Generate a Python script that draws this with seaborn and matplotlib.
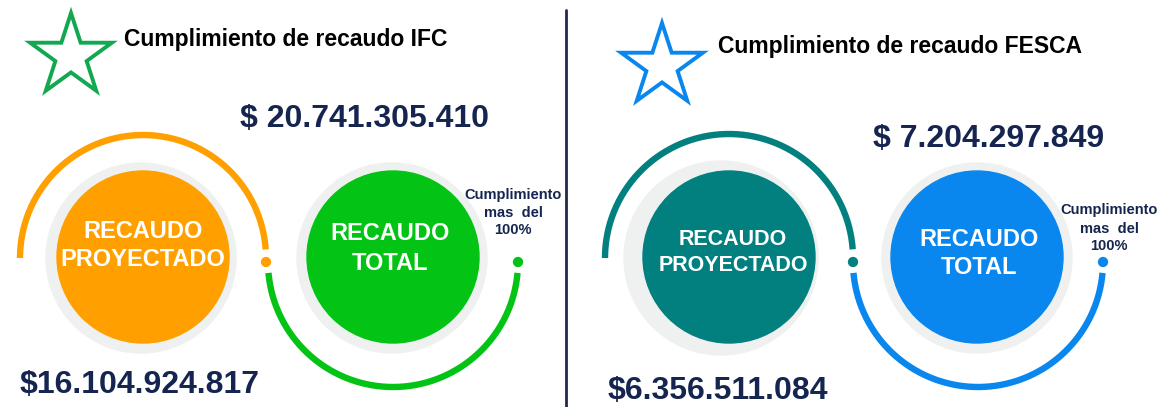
import numpy as np
import matplotlib.pyplot as plt
from matplotlib.patches import Circle, Polygon
import seaborn as sns

# data
panel_titles = ["Cumplimiento de recaudo IFC", "Cumplimiento de recaudo FESCA"]
projected_values = [16104924817, 6356511084]
total_values = [20741305410, 7204297849]
projected_label = ["RECAUDO", "PROYECTADO"]
total_label = ["RECAUDO", "TOTAL"]
note_lines = ["Cumplimiento", "mas  del", "100%"]

# styles
star_colors = ["#12A84F", "#0A87EE"]
proj_colors = ["#FFA000", "#02807F"]
total_colors = ["#03C415", "#0A87EE"]
ring_color = "#EFF0F0"
navy = "#15254F"

# layout in pixels (x right, y down)
layouts = [
    dict(star=(71, 56), title=(124, 38), total_txt=(240, 115), proj_txt=(20, 382),
         proj_c=(143, 257), proj_ring=(141, 258, 95), proj_lbl=(143, 230, 258, 17),
         tot_c=(393, 257), tot_ring=(392, 258, 95), tot_lbl=(390, 232, 262, 17),
         note=(513, [194, 212, 229]), arc1=(143, 258, 123), arc2=(393, 262, 125)),
    dict(star=(662, 66), title=(718, 45), total_txt=(873, 135), proj_txt=(608, 388),
         proj_c=(729, 257), proj_ring=(721, 258, 97), proj_lbl=(733, 237, 263, 15.5),
         tot_c=(977, 257), tot_ring=(977, 258, 95), tot_lbl=(979, 238, 265, 17),
         note=(1109, [209, 228, 245]), arc1=(729, 258, 124), arc2=(978, 262, 125)),
]

sns.set_style("white")
plt.rcParams['font.family'] = ['Liberation Sans', 'DejaVu Sans']

fig = plt.figure(figsize=(11.58, 4.07), dpi=100)
ax = fig.add_axes([0, 0, 1, 1])
ax.set_xlim(0, 1158)
ax.set_ylim(407, 0)
ax.axis('off')


def put_text(x, yc, s, size, color, ha='center'):
    # place text so its cap height is centred on yc
    px = size * 100 / 72
    ax.text(x, yc + 0.36 * px, s, fontsize=size, color=color, ha=ha, va='baseline',
            fontweight='bold', zorder=10)


def money(v, sep=""):
    return "$" + sep + f"{v:,}".replace(",", ".")


def star_points(cx, cy, r):
    ang = np.deg2rad(90 + np.arange(10) * 36)
    rr = np.where(np.arange(10) % 2 == 0, r, r * 0.382)
    return np.column_stack([cx + rr * np.cos(ang), cy - rr * np.sin(ang)])


for i, lay in enumerate(layouts):
    # star + title
    ax.add_patch(Polygon(star_points(*lay['star'], 43), closed=True, fill=False,
                         edgecolor=star_colors[i], linewidth=2.8, joinstyle='miter'))
    put_text(lay['title'][0], lay['title'][1], panel_titles[i], 16.5, "black", ha='left')
    put_text(lay['total_txt'][0], lay['total_txt'][1], money(total_values[i], " "), 23, navy, ha='left')
    put_text(lay['proj_txt'][0], lay['proj_txt'][1], money(projected_values[i]), 23, navy, ha='left')

    # arcs
    cx, cy, r = lay['arc1']
    th = np.deg2rad(np.linspace(4, 180, 200))
    sns.lineplot(x=cx + r * np.cos(th), y=cy - r * np.sin(th), sort=False, estimator=None,
                 ax=ax, color=proj_colors[i], linewidth=4.6, solid_capstyle='butt')
    cx, cy, r = lay['arc2']
    th = np.deg2rad(np.linspace(5, 175, 200))
    sns.lineplot(x=cx + r * np.cos(th), y=cy + r * np.sin(th), sort=False, estimator=None,
                 ax=ax, color=total_colors[i], linewidth=4.6, solid_capstyle='butt')

    # circles
    for ring, c, col in [(lay['proj_ring'], lay['proj_c'], proj_colors[i]),
                         (lay['tot_ring'], lay['tot_c'], total_colors[i])]:
        ax.add_patch(Circle(ring[:2], ring[2], color=ring_color, zorder=3))
        ax.add_patch(Circle(c, 86, color=col, zorder=4))

    x, y1, y2, fs = lay['proj_lbl']
    put_text(x, y1, projected_label[0], fs, "white")
    put_text(x, y2, projected_label[1], fs, "white")
    x, y1, y2, fs = lay['tot_lbl']
    put_text(x, y1, total_label[0], fs, "white")
    put_text(x, y2, total_label[1], fs, "white")

    # dots at arc ends
    sns.scatterplot(x=[lay['arc1'][0] + lay['arc1'][2], lay['arc2'][0] + lay['arc2'][2]],
                    y=[262, 262], ax=ax, s=55,
                    hue=[0, 1], palette=[proj_colors[i], total_colors[i]],
                    legend=False, edgecolor='none', zorder=5)

    nx, ny = lay['note']
    for line, yy in zip(note_lines, ny):
        put_text(nx, yy, line, 10.5, navy)

ax.plot([566, 566], [10, 407], color="#1E2B4A", linewidth=2)

fig.savefig("out.png", dpi=100)
